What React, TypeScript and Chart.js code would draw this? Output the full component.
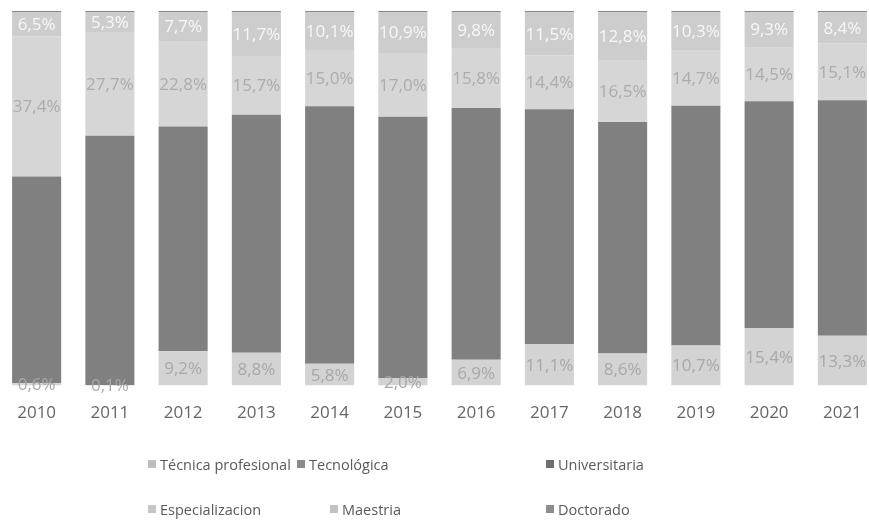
import React, { useEffect, useRef } from "react";
import { Chart, registerables } from "chart.js";

Chart.register(...registerables);

const years = ["2010", "2011", "2012", "2013", "2014", "2015", "2016", "2017", "2018", "2019", "2020", "2021"];
const tecnicaProfesional = [0.6, 0.1, 9.2, 8.8, 5.8, 2.0, 6.9, 11.1, 8.6, 10.7, 15.4, 13.3];
const tecnologica = [0, 0, 0, 0, 0, 0, 0, 0, 0, 0, 0, 0];
const universitaria = [55.2, 66.6, 60.0, 63.5, 68.8, 69.8, 67.2, 62.7, 61.8, 64.0, 60.5, 62.9];
const especializacion = [37.4, 27.7, 22.8, 15.7, 15.0, 17.0, 15.8, 14.4, 16.5, 14.7, 14.5, 15.1];
const maestria = [6.5, 5.3, 7.7, 11.7, 10.1, 10.9, 9.8, 11.5, 12.8, 10.3, 9.3, 8.4];
const doctorado = [0.3, 0.3, 0.3, 0.3, 0.3, 0.3, 0.3, 0.3, 0.3, 0.3, 0.3, 0.3];

const FONT = "'Open Sans', 'Noto Sans', sans-serif";

const series = [
  { label: "Técnica profesional", data: tecnicaProfesional, color: "#d3d3d3", labelColor: "#a8a8a8" },
  { label: "Tecnológica", data: tecnologica, color: "#888888", labelColor: null },
  { label: "Universitaria", data: universitaria, color: "#808080", labelColor: null },
  { label: "Especialización", data: especializacion, color: "#d6d6d6", labelColor: "#acacac" },
  { label: "Maestría", data: maestria, color: "#cdcdcd", labelColor: "#f7f7f7" },
  { label: "Doctorado", data: doctorado, color: "#888888", labelColor: null },
];

const legendItems = [
  { text: "Técnica profesional", color: "#bcbcbc", left: 148, top: 454 },
  { text: "Tecnológica", color: "#8a8a8a", left: 297, top: 454 },
  { text: "Universitaria", color: "#6f6f6f", left: 546, top: 454 },
  { text: "Especializacion", color: "#c6c6c6", left: 148, top: 499 },
  { text: "Maestria", color: "#c2c2c2", left: 330, top: 499 },
  { text: "Doctorado", color: "#8c8c8c", left: 546, top: 499 },
];

const fmt = (v: number) => v.toFixed(1).replace(".", ",") + "%";

const labelPlugin = {
  id: "segLabels",
  afterDatasetDraw(chart: any, args: any) {
    const i = args.index;
    const s = series[i];
    if (!s || !s.labelColor) return;
    const meta = chart.getDatasetMeta(i);
    const ctx = chart.ctx;
    ctx.save();
    ctx.font = `17px ${FONT}`;
    ctx.fillStyle = s.labelColor;
    ctx.textAlign = "center";
    ctx.textBaseline = "middle";
    meta.data.forEach((el: any, j: number) => {
      const v = s.data[j];
      const y = (el.y + el.base) / 2;
      ctx.fillText(fmt(v), el.x, y + 1);
    });
    ctx.restore();
  },
};

export default function App() {
  const ref = useRef<HTMLCanvasElement | null>(null);
  useEffect(() => {
    document.body.style.margin = "0";
    const chart = new Chart(ref.current as HTMLCanvasElement, {
      type: "bar",
      data: {
        labels: years,
        datasets: series.map((s) => ({
          label: s.label,
          data: s.data,
          backgroundColor: s.color,
          borderWidth: 0,
          barPercentage: 0.67,
          categoryPercentage: 1,
        })),
      },
      options: {
        responsive: false,
        animation: false,
        layout: { padding: { top: 11, bottom: 80, left: 0, right: 0 } },
        plugins: { legend: { display: false }, tooltip: { enabled: false } },
        scales: {
          x: {
            stacked: true,
            grid: { display: false, drawTicks: false },
            border: { display: false },
            ticks: { color: "#666666", font: { family: FONT, size: 17 }, padding: 17, maxRotation: 0 },
          },
          y: {
            stacked: true,
            display: false,
            min: 0,
            max: 100,
          },
        },
      },
      plugins: [labelPlugin],
    });
    return () => chart.destroy();
  }, []);

  return (
    <div style={{ position: "relative", width: 869, height: 520, overflow: "hidden", background: "#ffffff" }}>
      <canvas ref={ref} width={879} height={520} style={{ position: "absolute", left: 0, top: 0 }} />
      {legendItems.map((it) => (
        <div
          key={it.text}
          style={{
            position: "absolute",
            left: it.left,
            top: it.top,
            height: 20,
            display: "flex",
            alignItems: "center",
            fontFamily: FONT,
            fontSize: 14.5,
            color: "#5a5a5a",
            whiteSpace: "nowrap",
          }}
        >
          <span style={{ display: "inline-block", width: 8, height: 8, background: it.color, marginRight: 4 }} />
          {it.text}
        </div>
      ))}
    </div>
  );
}
